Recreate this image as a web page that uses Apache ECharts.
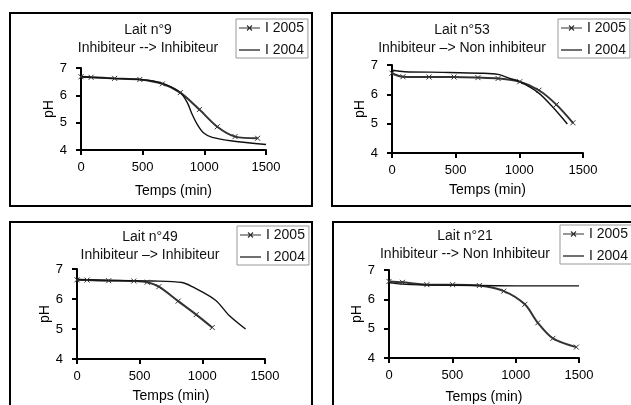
<!DOCTYPE html>
<html>
<head>
<meta charset="utf-8">
<script src="https://cdn.jsdelivr.net/npm/echarts@6/dist/echarts.min.js"></script>
<style>
  html, body { margin: 0; padding: 0; background: #fff; }
  #chart { width: 631px; height: 405px; }
</style>
</head>
<body>
<div id="chart"></div>
<script>
// values: time in minutes, pH
const lait9Time2005 = [0, 82, 273, 477, 660, 805, 960, 1105, 1249, 1432];
const lait9Ph2005 = [6.68, 6.66, 6.62, 6.58, 6.42, 6.10, 5.48, 4.85, 4.49, 4.43];
const lait9Time2004 = [0, 200, 500, 650, 800, 860, 900, 945, 995, 1064, 1227, 1500];
const lait9Ph2004 = [6.68, 6.63, 6.57, 6.45, 6.12, 5.75, 5.32, 4.92, 4.62, 4.46, 4.33, 4.20];

const lait53Time2005 = [0, 86, 291, 487, 675, 833, 1003, 1154, 1291, 1421];
const lait53Ph2005 = [6.72, 6.60, 6.59, 6.59, 6.57, 6.54, 6.43, 6.14, 5.65, 5.03];
const lait53Time2004 = [0, 100, 400, 700, 833, 920, 1003, 1150, 1255, 1377];
const lait53Ph2004 = [6.82, 6.77, 6.75, 6.72, 6.68, 6.55, 6.43, 6.05, 5.60, 4.99];

const lait49Time2005 = [0, 80, 253, 453, 560, 653, 807, 951, 1079];
const lait49Ph2005 = [6.64, 6.63, 6.61, 6.60, 6.56, 6.41, 5.93, 5.48, 5.05];
const lait49Time2004 = [0, 300, 600, 839, 919, 1105, 1212, 1345];
const lait49Ph2004 = [6.65, 6.62, 6.60, 6.55, 6.41, 5.96, 5.46, 5.00];

const lait21Time2005 = [0, 106, 299, 502, 713, 906, 1072, 1175, 1294, 1479];
const lait21Ph2005 = [6.61, 6.58, 6.50, 6.50, 6.47, 6.28, 5.83, 5.20, 4.67, 4.37];
const lait21Time2004 = [0, 100, 300, 700, 1000, 1500];
const lait21Ph2004 = [6.58, 6.52, 6.49, 6.47, 6.46, 6.46];

const seriesNames = ['I 2005', 'I 2004'];
const titles = [
  'Lait n°9\nInhibiteur --> Inhibiteur',
  'Lait n°53\nInhibiteur –> Non inhibiteur',
  'Lait n°49\nInhibiteur –> Inhibiteur',
  'Lait n°21\nInhibiteur --> Non Inhibiteur'
];

const FONT = 'Liberation Sans, Arial, sans-serif';

// legend icons: thin line with a small cross, and a plain line (the two M's fix the box to 21x14)
const ICON_2005 = 'path://M0,0M21,14M0,6.5H21V7.5H0Z' +
  'M7.6,4.9L8.4,4.1L13.4,9.1L12.6,9.9Z' +
  'M12.6,4.1L13.4,4.9L8.4,9.9L7.6,9.1Z';
const ICON_2004 = 'path://M0,0M21,14M0,6.4H21V7.6H0Z';

function pairs(xs, ys) {
  return xs.map((x, i) => [x, ys[i]]);
}

// one entry per small chart: where the plot sits, where its texts go
const panels = [
  { grid: { left: 81, top: 68, width: 185, height: 82 }, title: [148, 21], legend: [236, 19], gapX: 34, gapY: 25,
    d2005: pairs(lait9Time2005, lait9Ph2005), d2004: pairs(lait9Time2004, lait9Ph2004) },
  { grid: { left: 392, top: 65, width: 191, height: 88 }, title: [462, 21], legend: [558, 19], gapX: 30, gapY: 18,
    d2005: pairs(lait53Time2005, lait53Ph2005), d2004: pairs(lait53Time2004, lait53Ph2004) },
  { grid: { left: 77, top: 269, width: 188, height: 90 }, title: [150, 228], legend: [237, 226], gapX: 30, gapY: 22,
    d2005: pairs(lait49Time2005, lait49Ph2005), d2004: pairs(lait49Time2004, lait49Ph2004) },
  { grid: { left: 389, top: 270, width: 190, height: 90 }, title: [465, 227], legend: [560, 225], gapX: 32, gapY: 25,
    d2005: pairs(lait21Time2005, lait21Ph2005), d2004: pairs(lait21Time2004, lait21Ph2004) }
];

const axisLine = { show: true, onZero: false, lineStyle: { color: '#000', width: 2 } };
const axisTick = { show: true, inside: false, length: 5, lineStyle: { color: '#000', width: 2 } };

const option = {
  animation: false,
  backgroundColor: '#fff',
  textStyle: { fontFamily: FONT },
  title: panels.map((p, i) => ({
    text: titles[i],
    left: p.title[0],
    top: p.title[1],
    textAlign: 'center',
    padding: 0,
    textStyle: { fontFamily: FONT, fontSize: 14, fontWeight: 'normal', color: '#111', lineHeight: 18 }
  })),
  legend: panels.map((p) => ({
    data: [
      { name: seriesNames[0], icon: ICON_2005 },
      { name: seriesNames[1], icon: ICON_2004 }
    ],
    orient: 'vertical',
    left: p.legend[0],
    top: p.legend[1],
    itemWidth: 21,
    itemHeight: 14,
    itemGap: 8,
    padding: [2, 4, 1, 3],
    borderColor: '#999',
    borderWidth: 1,
    backgroundColor: '#fff',
    selectedMode: false,
    itemStyle: { borderWidth: 0 },
    textStyle: { fontFamily: FONT, fontSize: 14, color: '#111' }
  })),
  grid: panels.map((p) => p.grid),
  xAxis: panels.map((p, i) => ({
    type: 'value',
    gridIndex: i,
    min: 0,
    max: 1500,
    interval: 500,
    axisLine: axisLine,
    axisTick: axisTick,
    splitLine: { show: false },
    axisLabel: { margin: 11, color: '#000', fontSize: 13, fontFamily: FONT, formatter: (v) => String(v) },
    name: 'Temps (min)',
    nameLocation: 'middle',
    nameGap: p.gapX,
    nameTextStyle: { color: '#000', fontSize: 14, fontFamily: FONT }
  })),
  yAxis: panels.map((p, i) => ({
    type: 'value',
    gridIndex: i,
    min: 4,
    max: 7,
    interval: 1,
    axisLine: axisLine,
    axisTick: axisTick,
    splitLine: { show: false },
    axisLabel: { margin: 14, color: '#000', fontSize: 13, fontFamily: FONT },
    name: 'pH',
    nameLocation: 'middle',
    nameGap: p.gapY,
    nameTextStyle: { color: '#000', fontSize: 14, fontFamily: FONT }
  })),
  series: panels.flatMap((p, i) => [
    {
      name: seriesNames[0],
      type: 'line',
      xAxisIndex: i,
      yAxisIndex: i,
      data: p.d2005,
      smooth: 0.3,
      symbol: 'path://M0,0L10,10M0,10L10,0',
      symbolSize: 5,
      itemStyle: { color: '#333', borderColor: '#333', borderWidth: 1 },
      lineStyle: { color: '#333', width: 2 }
    },
    {
      name: seriesNames[1],
      type: 'line',
      xAxisIndex: i,
      yAxisIndex: i,
      data: p.d2004,
      smooth: 0.3,
      symbol: 'none',
      itemStyle: { color: '#111' },
      lineStyle: { color: '#111', width: 1.4 }
    }
  ]),
  graphic: [
    { type: 'rect', z: -1, shape: { x: 10, y: 13, width: 302, height: 193 }, style: { fill: 'none', stroke: '#000', lineWidth: 2 } },
    { type: 'rect', z: -1, shape: { x: 332, y: 13, width: 320, height: 193 }, style: { fill: 'none', stroke: '#000', lineWidth: 2 } },
    { type: 'rect', z: -1, shape: { x: 10, y: 222, width: 302, height: 200 }, style: { fill: 'none', stroke: '#000', lineWidth: 2 } },
    { type: 'rect', z: -1, shape: { x: 333, y: 222, width: 320, height: 200 }, style: { fill: 'none', stroke: '#000', lineWidth: 2 } }
  ]
};

const chart = echarts.init(document.getElementById('chart'), null, { renderer: 'canvas' });
chart.setOption(option);
</script>
</body>
</html>
